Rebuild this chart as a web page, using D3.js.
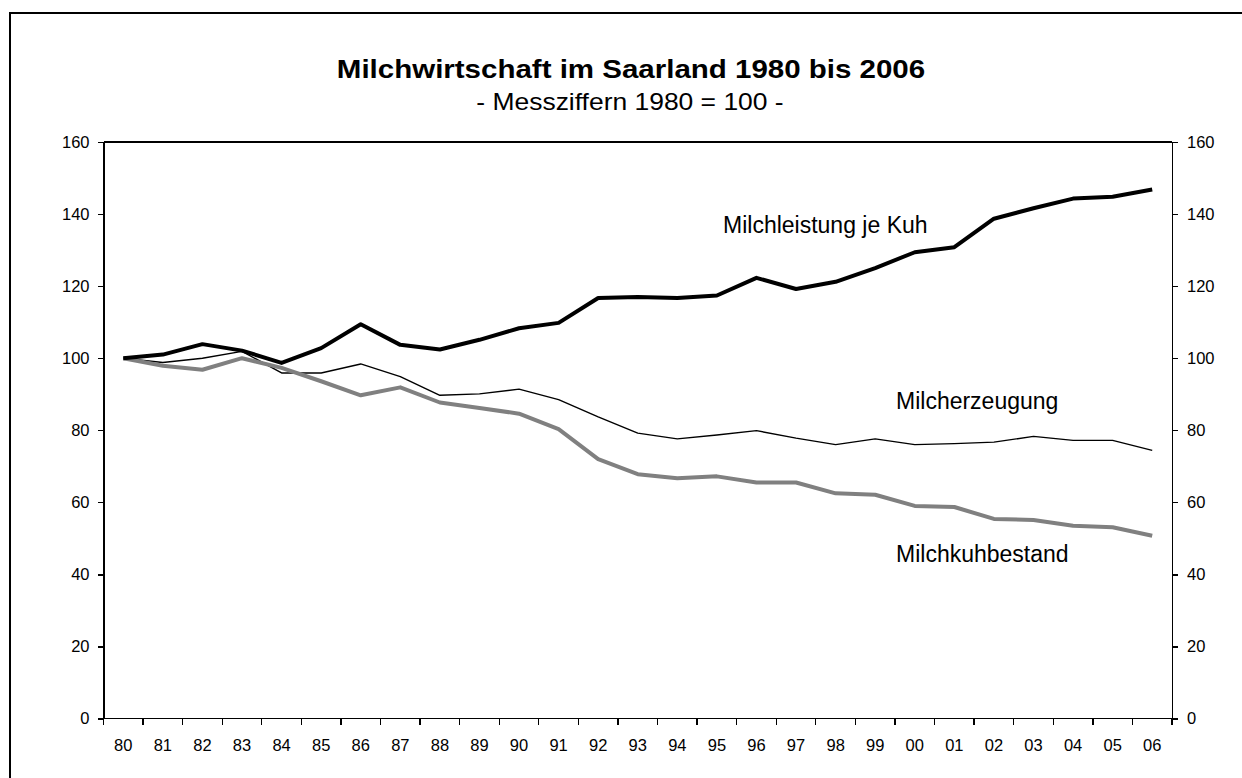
<!DOCTYPE html>
<head>
<meta charset="utf-8">
<style>
body { margin: 0; background: #fff; }
svg { font-family: "Liberation Sans", Arial, sans-serif; }
.axis path, .axis line { stroke: #000; stroke-width: 1.3; shape-rendering: crispEdges; }
.axis text { font-size: 16.5px; fill: #000; font-family: "Liberation Sans", Arial, sans-serif; }
.lbl { font-size: 23px; fill: #000; }
</style>
</head>
<body>
<svg width="1242" height="778"></svg>
<script src="https://d3js.org/d3.v7.min.js"></script>
<script>
// Jahre (zweistellig)
var years = ["80","81","82","83","84","85","86","87","88","89","90","91","92","93","94","95","96","97","98","99","00","01","02","03","04","05","06"];

// Messziffern 1980 = 100
var leistung = [100,101,103.9,102.1,98.7,102.8,109.4,103.7,102.4,105.1,108.3,109.8,116.7,117,116.7,117.4,122.3,119.2,121.2,125,129.4,130.8,138.7,141.6,144.3,144.8,146.8];
var erzeugung = [100,98.8,100,101.9,95.9,95.9,98.4,94.9,89.7,90.1,91.4,88.5,83.7,79.2,77.6,78.7,79.9,77.8,76,77.6,76,76.3,76.7,78.3,77.2,77.2,74.4];
var bestand = [100,97.9,96.8,100,97.3,93.6,89.7,91.9,87.7,86.2,84.6,80.3,72,67.8,66.7,67.2,65.5,65.5,62.5,62.1,59,58.7,55.4,55.1,53.5,53.1,50.7];

var yTicks = [0,20,40,60,80,100,120,140,160];

var svg = d3.select("svg");

// aeusserer Rahmen
svg.append("rect")
    .attr("x", 10).attr("y", 13)
    .attr("width", 1260).attr("height", 800)
    .attr("fill", "none").attr("stroke", "#000").attr("stroke-width", 2);

var pLeft = 103.5, pRight = 1172, pTop = 142, pBottom = 718.5;

var x = d3.scaleBand().domain(years).range([pLeft, pRight]);
var xp = function(i) { return x(years[i]) + x.bandwidth() / 2; };
var y = d3.scaleLinear().domain([0, 160]).range([pBottom, pTop]);

// Plotbereich-Rahmen oben
svg.append("line")
    .attr("x1", pLeft).attr("x2", pRight).attr("y1", pTop).attr("y2", pTop)
    .attr("stroke", "#000").attr("stroke-width", 1.3).attr("shape-rendering", "crispEdges");

// Achsen
var yl = svg.append("g").attr("class", "axis")
    .attr("transform", "translate(" + pLeft + ",0)")
    .call(d3.axisLeft(y).tickValues(yTicks).tickSize(6).tickSizeOuter(0).tickPadding(8));
var yr = svg.append("g").attr("class", "axis")
    .attr("transform", "translate(" + pRight + ",0)")
    .call(d3.axisRight(y).tickValues(yTicks).tickSize(6).tickSizeOuter(0).tickPadding(9));

var xa = svg.append("g").attr("class", "axis")
    .attr("transform", "translate(0," + pBottom + ")")
    .call(d3.axisBottom(x).tickSize(0).tickPadding(21));
xa.select(".domain").remove();
xa.append("line").attr("x1", pLeft).attr("x2", pRight).attr("y1", 0).attr("y2", 0);
// Teilstriche zwischen den Jahren
xa.selectAll(".sep")
    .data(d3.range(years.length + 1))
    .enter().append("line")
    .attr("x1", function(i) { return pLeft + i * x.step(); })
    .attr("x2", function(i) { return pLeft + i * x.step(); })
    .attr("y1", 0).attr("y2", 6);

// Linien
var line = d3.line()
    .x(function(d, i) { return xp(i); })
    .y(function(d) { return y(d); });

svg.append("path").datum(erzeugung)
    .attr("d", line).attr("fill", "none")
    .attr("stroke", "#000").attr("stroke-width", 1.4).attr("stroke-linejoin", "round");
svg.append("path").datum(bestand)
    .attr("d", line).attr("fill", "none")
    .attr("stroke", "#808080").attr("stroke-width", 4).attr("stroke-linejoin", "round");
svg.append("path").datum(leistung)
    .attr("d", line).attr("fill", "none")
    .attr("stroke", "#000").attr("stroke-width", 4).attr("stroke-linejoin", "round");

// Titel (Excel-Schrift etwas breiter gezogen)
svg.append("text")
    .attr("transform", "translate(631,78) scale(1.18,1)")
    .attr("text-anchor", "middle")
    .style("font-size", "25px").style("font-weight", "bold")
    .text("Milchwirtschaft im Saarland 1980 bis 2006");
svg.append("text")
    .attr("transform", "translate(630,110) scale(1.15,1)")
    .attr("text-anchor", "middle")
    .style("font-size", "23px")
    .text("- Messziffern 1980 = 100 -");

// Beschriftungen
svg.append("text").attr("class", "lbl").attr("x", 723).attr("y", 232.5).text("Milchleistung je Kuh");
svg.append("text").attr("class", "lbl").attr("x", 896).attr("y", 409).text("Milcherzeugung");
svg.append("text").attr("class", "lbl").attr("x", 896).attr("y", 562).text("Milchkuhbestand");
</script>
</body>
